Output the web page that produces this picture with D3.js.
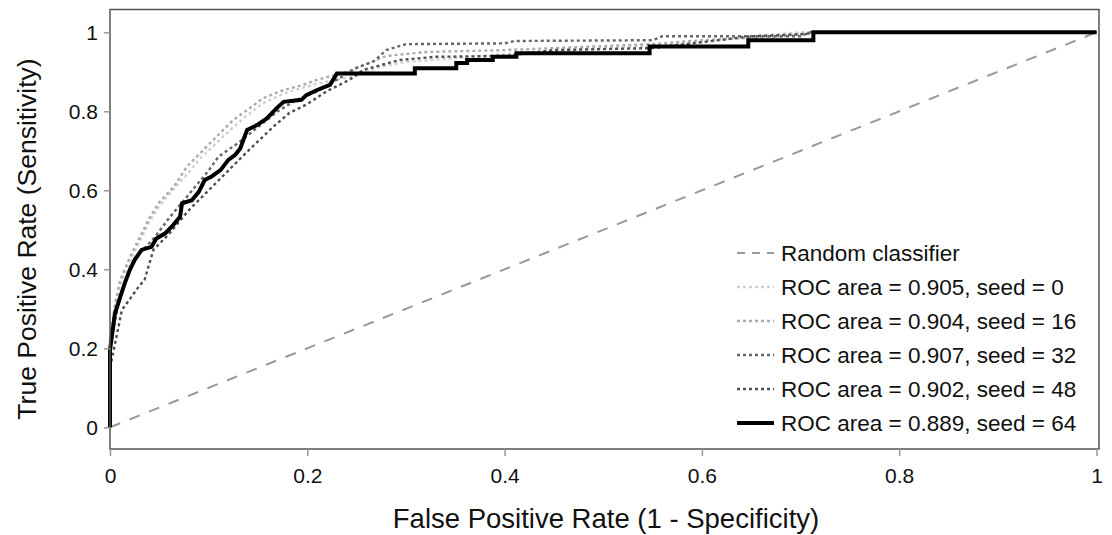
<!DOCTYPE html>
<html>
<head>
<meta charset="utf-8">
<script src="https://cdn.jsdelivr.net/npm/d3@7"></script>
<style>
  body { margin: 0; background: #fff; }
  text { font-family: 'Liberation Sans', Arial, sans-serif; fill: #111; }
</style>
</head>
<body>
<div id="chart"></div>
<script>
// ROC points as [fpr, tpr]
const roc0 = [[0, 0], [0, 0.2], [0.005, 0.3], [0.01, 0.36], [0.02, 0.42], [0.03, 0.47], [0.04, 0.52], [0.05, 0.56], [0.06, 0.59], [0.078, 0.64], [0.091, 0.68], [0.108, 0.72], [0.125, 0.76], [0.139, 0.79], [0.155, 0.82], [0.176, 0.845], [0.196, 0.86], [0.21, 0.87], [0.23, 0.88], [0.25, 0.89], [0.27, 0.91], [0.3, 0.925], [0.35, 0.935], [0.4, 0.945], [0.5, 0.96], [0.55, 0.965], [0.6, 0.975], [0.65, 0.99], [0.7, 1], [1, 1]];
const roc16 = [[0, 0], [0, 0.22], [0.005, 0.31], [0.01, 0.37], [0.02, 0.43], [0.03, 0.48], [0.04, 0.53], [0.05, 0.57], [0.065, 0.61], [0.078, 0.66], [0.091, 0.693], [0.108, 0.736], [0.125, 0.778], [0.139, 0.803], [0.155, 0.833], [0.176, 0.854], [0.196, 0.867], [0.21, 0.88], [0.24, 0.9], [0.26, 0.92], [0.28, 0.94], [0.32, 0.95], [0.4, 0.955], [0.45, 0.96], [0.55, 0.97], [0.6, 0.98], [0.68, 0.99], [0.72, 1], [1, 1]];
const roc32 = [[0, 0], [0, 0.2], [0.005, 0.27], [0.01, 0.33], [0.02, 0.4], [0.03, 0.44], [0.045, 0.48], [0.06, 0.53], [0.08, 0.59], [0.1, 0.65], [0.11, 0.685], [0.13, 0.72], [0.15, 0.76], [0.17, 0.8], [0.19, 0.83], [0.21, 0.85], [0.23, 0.88], [0.25, 0.91], [0.267, 0.926], [0.28, 0.955], [0.3, 0.97], [0.4, 0.972], [0.41, 0.978], [0.55, 0.98], [0.56, 0.99], [0.7, 0.99], [0.71, 1], [1, 1]];
const roc48 = [[0, 0], [0, 0.15], [0.005, 0.21], [0.012, 0.297], [0.022, 0.331], [0.029, 0.356], [0.035, 0.373], [0.041, 0.424], [0.044, 0.449], [0.06, 0.49], [0.08, 0.55], [0.1, 0.6], [0.12, 0.65], [0.14, 0.7], [0.166, 0.762], [0.182, 0.796], [0.199, 0.817], [0.22, 0.851], [0.243, 0.88], [0.257, 0.905], [0.294, 0.93], [0.33, 0.938], [0.4, 0.94], [0.45, 0.955], [0.55, 0.96], [0.6, 0.975], [0.65, 0.99], [0.7, 0.995], [0.72, 1], [1, 1]];
const roc64 = [[0, 0], [0, 0.195], [0.005, 0.288], [0.01, 0.327], [0.015, 0.365], [0.02, 0.398], [0.025, 0.424], [0.032, 0.449], [0.042, 0.457], [0.047, 0.478], [0.056, 0.491], [0.064, 0.512], [0.071, 0.533], [0.073, 0.567], [0.083, 0.575], [0.09, 0.596], [0.096, 0.626], [0.103, 0.635], [0.112, 0.651], [0.12, 0.677], [0.127, 0.69], [0.132, 0.706], [0.139, 0.753], [0.149, 0.765], [0.159, 0.782], [0.169, 0.808], [0.176, 0.824], [0.194, 0.829], [0.199, 0.841], [0.21, 0.854], [0.223, 0.867], [0.23, 0.896], [0.309, 0.896], [0.309, 0.909], [0.351, 0.909], [0.351, 0.922], [0.362, 0.922], [0.362, 0.93], [0.388, 0.93], [0.388, 0.938], [0.412, 0.938], [0.412, 0.947], [0.547, 0.947], [0.547, 0.964], [0.647, 0.964], [0.647, 0.98], [0.713, 0.98], [0.713, 1], [1, 1]];
const diagonal = [[0, 0], [1, 1]];

const labels = ['Random classifier', 'ROC area = 0.905, seed = 0', 'ROC area = 0.904, seed = 16', 'ROC area = 0.907, seed = 32', 'ROC area = 0.902, seed = 48', 'ROC area = 0.889, seed = 64'];
const xTicks = [0, 0.2, 0.4, 0.6, 0.8, 1];
const yTicks = [0, 0.2, 0.4, 0.6, 0.8, 1];

const W = 1112, H = 535;
const box = { left: 110, right: 1099, top: 9.5, bottom: 449 };

const svg = d3.select('#chart').append('svg').attr('width', W).attr('height', H);

const x = d3.scaleLinear().domain([0, 1]).range([110, 1096.5]);
const y = d3.scaleLinear().domain([0, 1]).range([427.3, 32.3]);

// series styles (drawn back to front)
const series = [
  { data: diagonal, color: '#999', width: 2, dash: '11,10' },
  { data: roc0, color: '#d0d0d0', width: 2.4, dash: '3,3' },
  { data: roc16, color: '#ababab', width: 2.4, dash: '3,3' },
  { data: roc32, color: '#666', width: 2.4, dash: '3,3' },
  { data: roc48, color: '#505050', width: 2.4, dash: '3,3' },
  { data: roc64, color: '#000', width: 4, dash: null },
];

const line = d3.line().x(d => x(d[0])).y(d => y(d[1]));

const plot = svg.append('g');
plot.selectAll('path.roc')
  .data(series)
  .enter()
  .append('path')
  .attr('class', 'roc')
  .attr('d', d => line(d.data))
  .attr('fill', 'none')
  .attr('stroke', d => d.color)
  .attr('stroke-width', d => d.width)
  .attr('stroke-dasharray', d => d.dash)
  .attr('stroke-linejoin', 'miter');

// frame
svg.append('rect')
  .attr('x', box.left).attr('y', box.top)
  .attr('width', box.right - box.left).attr('height', box.bottom - box.top)
  .attr('fill', 'none').attr('stroke', '#555').attr('stroke-width', 1.5);

// x axis, ticks hang below the frame
const xAxis = svg.append('g')
  .attr('transform', `translate(0, ${box.bottom})`)
  .call(d3.axisBottom(x).tickValues(xTicks).tickSize(7).tickPadding(12).tickFormat(d3.format('~g')));
xAxis.select('.domain').remove();
xAxis.selectAll('line').attr('stroke', '#999').attr('stroke-width', 1.5);
xAxis.selectAll('text').style('font-size', '21px').attr('fill', '#111');

const yAxis = svg.append('g')
  .attr('transform', `translate(${box.left}, 0)`)
  .call(d3.axisLeft(y).tickValues(yTicks).tickSize(6).tickPadding(6).tickFormat(d3.format('~g')));
yAxis.select('.domain').remove();
yAxis.selectAll('line').attr('stroke', '#999').attr('stroke-width', 1.5);
yAxis.selectAll('text').style('font-size', '21px').attr('fill', '#111');

svg.append('text')
  .attr('x', 606).attr('y', 528)
  .attr('text-anchor', 'middle')
  .style('font-size', '27.5px')
  .text('False Positive Rate (1 - Specificity)');

svg.append('text')
  .attr('transform', 'translate(36, 239) rotate(-90)')
  .attr('text-anchor', 'middle')
  .style('font-size', '26.5px')
  .text('True Positive Rate (Sensitivity)');

// legend
const legend = svg.append('g').attr('transform', 'translate(737, 253)');
const item = legend.selectAll('g')
  .data(series)
  .enter()
  .append('g')
  .attr('transform', (d, i) => `translate(0, ${i * 34})`);
item.append('line')
  .attr('x1', 0).attr('x2', 37).attr('y1', 0).attr('y2', 0)
  .attr('stroke', d => d.color)
  .attr('stroke-width', d => d.width)
  .attr('stroke-dasharray', (d, i) => (i === 0 ? '8,7' : d.dash));
item.append('text')
  .attr('x', 44).attr('y', 0).attr('dy', '0.35em')
  .style('font-size', '22.5px')
  .text((d, i) => labels[i]);
</script>
</body>
</html>
